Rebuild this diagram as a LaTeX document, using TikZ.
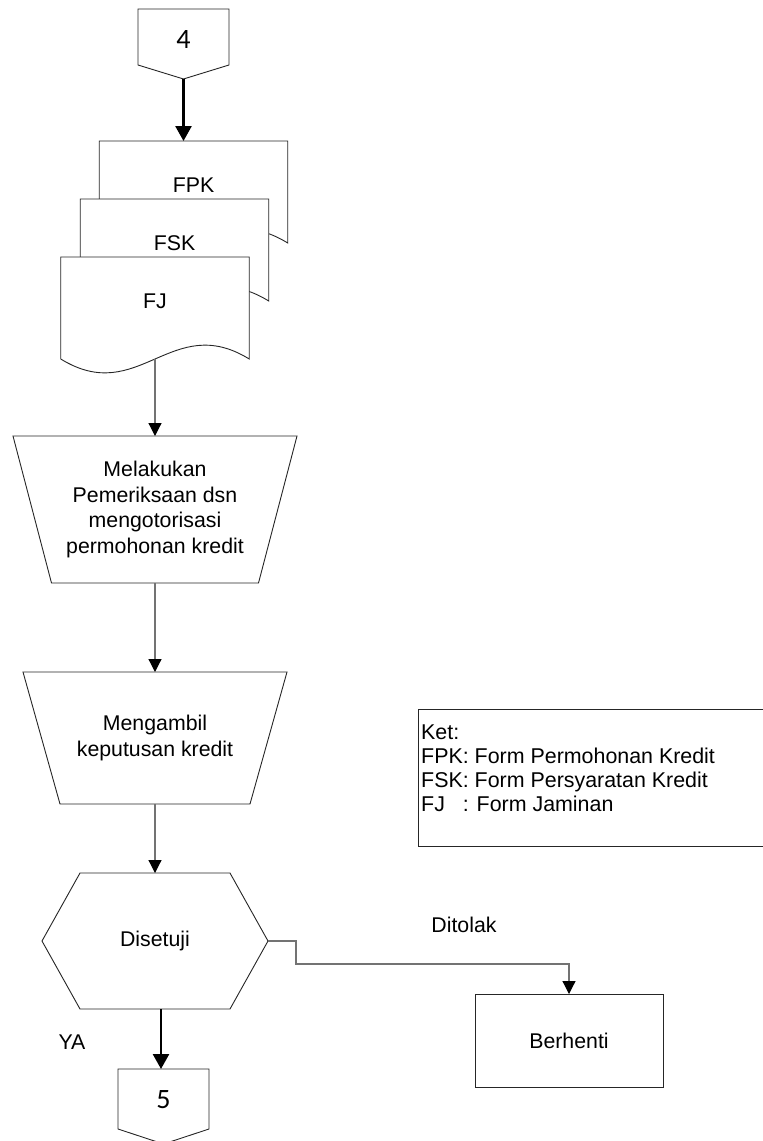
\documentclass[tikz,border=0pt]{standalone}
\usepackage{fontspec}
\setmainfont{Liberation Sans}
\newfontfamily\numfont{Carlito}
\usetikzlibrary{arrows.meta}

\begin{document}
\begin{tikzpicture}[x=1pt,y=-1pt,
  outline/.style={draw=black!85, line width=0.9pt, fill=white},
  frame/.style={inner sep=0pt, outer sep=0pt, minimum width=#1},
  tall/.style={minimum height=#1},
  flow/.style={draw=black!55, line width=1.2pt,
    -{Triangle[width=13pt,length=13pt,color=black,fill=black]}},
  bold/.style={draw=black, line width=2.6pt,
    -{Triangle[width=16pt,length=15pt]}},
  txt/.style={font=\fontsize{21.3}{25.5}\selectfont, align=center, inner sep=0pt},
  num/.style={font=\numfont\fontsize{28}{30}\selectfont, inner sep=0pt}
]
\useasboundingbox (0,0) rectangle (763,1141);

% off-page connector 4
\node[frame=91pt, tall=70pt] (c4) at (183.5,44) {};
\draw[outline] (c4.north west) -- (c4.north east) -- ([yshift=14pt]c4.south east)
  -- (c4.south) -- ([yshift=14pt]c4.south west) -- cycle;
\node[num] (c4t) at (183.5,40) {4};

% stacked documents
\node[frame=188.5pt, tall=102pt] (fpk) at (193.5,192) {};
\node[frame=188.5pt, tall=102pt] (fsk) at (174.5,250) {};
\node[frame=188.5pt, tall=102pt] (fj)  at (155,308) {};
\foreach \d in {fpk,fsk,fj}{
  \draw[outline] (\d.south west) -- (\d.north west) -- (\d.north east) -- (\d.south east)
    .. controls +(-78,-48) and +(78,48) .. (\d.south west);
}
\node[txt] (fpkt) at (193.5,185) {FPK};
\node[txt] (fskt) at (174.5,243) {FSK};
\node[txt] (fjt)  at (155,301) {FJ};

% manual operations
\node[frame=284pt, tall=147pt] (t1) at (155,509.5) {};
\draw[outline] (t1.north west) -- (t1.north east) -- ([xshift=-38.5pt]t1.south east)
  -- ([xshift=38.5pt]t1.south west) -- cycle;
\node[txt] (t1t) at (t1.center) {Melakukan\\Pemeriksaan dsn\\mengotorisasi\\permohonan kredit};

\node[frame=264pt, tall=132pt] (t2) at (155,738) {};
\draw[outline] (t2.north west) -- (t2.north east) -- ([xshift=-37pt]t2.south east)
  -- ([xshift=37pt]t2.south west) -- cycle;
\node[txt] (t2t) at (t2.center) {Mengambil\\keputusan kredit};

% decision
\node[frame=226pt, tall=136pt] (hex) at (155,941) {};
\draw[outline] ([xshift=38pt]hex.north west) -- ([xshift=-38pt]hex.north east) -- (hex.east)
  -- ([xshift=-38pt]hex.south east) -- ([xshift=38pt]hex.south west) -- (hex.west) -- cycle;
\node[txt] (hext) at (hex.center) {Disetuji};

% terminal box
\node[frame=188pt, tall=93pt, outline] (stop) at (569,1040.5) {};
\node[txt] (stopt) at (stop.center) {Berhenti};

% off-page connector 5
\node[frame=91pt, tall=75pt] (c5) at (163.5,1106.5) {};
\draw[outline] (c5.north west) -- (c5.north east) -- ([yshift=15pt]c5.south east)
  -- (c5.south) -- ([yshift=15pt]c5.south west) -- cycle;
\node[num] (c5t) at (163.5,1100) {5};

% legend
\draw[draw=black!85, line width=0.9pt] (765,709) -- (418,709) -- (418,846) -- (765,846);
\node[txt, align=left, anchor=west, font=\fontsize{21.4}{24}\selectfont] (ket) at (421,768)
  {Ket:\\FPK: Form Permohonan Kredit\\FSK: Form Persyaratan Kredit\\\rlap{FJ}\hphantom{FPK}: Form Jaminan};

% labels
\node[txt] (ditolak) at (464,925) {Ditolak};
\node[txt] (ya) at (72,1042) {YA};

% connectors
\draw[bold] (c4.south) -- (c4.south |- fpk.north);
\draw[flow] (fj.south) -- (t1.north);
\draw[flow] (t1.south) -- (t2.north);
\draw[flow] (t2.south) -- (hex.north);
\draw[bold] ([xshift=6pt]hex.south) -- ([xshift=6pt]hex.south |- c5.north);
\draw[flow] (hex.east) -- ++(28,0) -- ++(0,23) -| (stop.north);
\end{tikzpicture}
\end{document}
